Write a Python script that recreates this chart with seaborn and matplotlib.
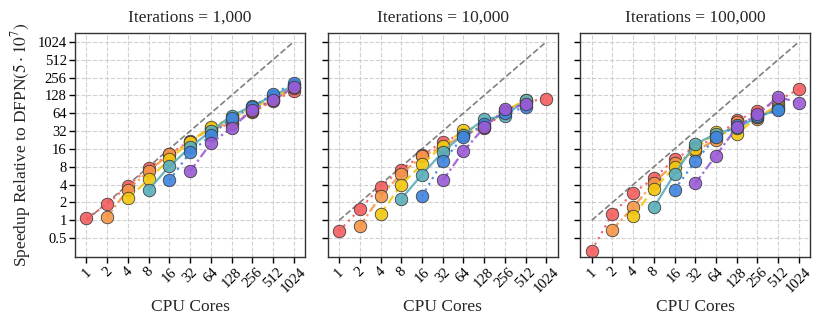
import numpy as np
import pandas as pd
import matplotlib
matplotlib.use("Agg")
import matplotlib.pyplot as plt
import seaborn as sns

# cores on the x axis
cores = [1, 2, 4, 8, 16, 32, 64, 128, 256, 512, 1024]
iterations = ["1,000", "10,000", "100,000"]

# speedup values, one list per starting core count
# (None where the series has no point)
speedup_1k = {
    "1":  [1.08, 1.87, 3.85, 7.5, 13.0, 22.0, 35.0, 42.0, 66.0, 103.0, 152.0],
    "2":  [None, 1.15, 3.3, 6.8, 13.0, 21.0, 36.0, 44.0, 70.0, 105.0, 170.0],
    "4":  [None, None, 2.34, 4.9, 10.7, 21.0, 38.0, 52.0, 78.0, 115.0, 180.0],
    "8":  [None, None, None, 3.3, 8.1, 17.0, 32.0, 58.0, 85.0, 125.0, 190.0],
    "16": [None, None, None, None, 4.7, 14.0, 27.0, 53.0, 81.0, 134.0, 205.0],
    "32": [None, None, None, None, None, 6.7, 20.0, 36.0, 73.0, 107.0, 176.0],
}
speedup_10k = {
    "1":  [0.66, 1.54, 3.7, 7.2, 12.5, 21.0, 29.0, 36.0, 68.0, 100.0, 112.0],
    "2":  [None, 0.8, 2.55, 6.1, 12.0, 17.5, 27.0, 38.0, 70.0, 104.0, None],
    "4":  [None, None, 1.28, 4.0, 8.8, 18.0, 33.0, 40.0, 67.0, 109.0, None],
    "8":  [None, None, None, 2.3, 5.9, 14.2, 28.0, 50.5, 58.0, 106.0, None],
    "16": [None, None, None, None, 2.55, 9.9, 25.5, 41.6, 65.0, 80.0, None],
    "32": [None, None, None, None, None, 4.7, 14.6, 37.0, 74.0, 90.0, None],
}
speedup_100k = {
    "1":  [0.31, 1.29, 2.9, 5.1, 10.8, 17.0, 25.0, 48.5, 69.0, 106.0, 163.0],
    "2":  [None, 0.7, 1.66, 4.3, 9.1, 14.6, 23.0, 45.0, 52.0, 90.0, None],
    "4":  [None, None, 1.17, 3.4, 7.9, 16.0, 30.5, 28.7, 55.0, 82.0, None],
    "8":  [None, None, None, 1.66, 6.1, 19.2, 29.0, 36.0, 55.0, 74.0, None],
    "16": [None, None, None, None, 3.3, 9.9, 25.5, 40.0, 57.0, 72.0, None],
    "32": [None, None, None, None, None, 4.2, 12.4, 37.0, 61.0, 121.0, 96.0],
}

series = ["1", "2", "4", "8", "16", "32"]
colors = ["#F45D5E", "#F59648", "#F2C70F", "#5AAEB9", "#3E84DD", "#9A5AD6"]
dashes = {"1": (1, 2), "2": (4, 1.5, 1, 1.5), "4": (4, 2), "8": "",
          "16": (1, 2), "32": (4, 1.5, 1, 1.5)}

rows = []
for it, table in zip(iterations, [speedup_1k, speedup_10k, speedup_100k]):
    for s in series:
        for c, v in zip(cores, table[s]):
            if v is not None:
                rows.append({"iters": it, "series": s, "cores": c, "speedup": v})
df = pd.DataFrame(rows)

sns.set_theme(style="ticks")
plt.rcParams["font.family"] = ["Liberation Serif", "DejaVu Serif"]
plt.rcParams["mathtext.fontset"] = "stix"

fig, axes = plt.subplots(1, 3, figsize=(8.21, 3.29), dpi=100, sharey=True)
fig.subplots_adjust(left=0.0914, right=0.987, top=0.90, bottom=0.219, wspace=0.098)

ticks = [0.5, 1, 2, 4, 8, 16, 32, 64, 128, 256, 512, 1024]

for ax, it in zip(axes, iterations):
    sub = df[df["iters"] == it]
    ax.grid(True, which="major", color="#d0d0d0", linestyle="--", linewidth=0.8)
    ax.set_axisbelow(True)
    ax.plot([1, 1024], [1, 1024], color="gray", linestyle="--", linewidth=1.2, zorder=2)
    sns.lineplot(data=sub, x="cores", y="speedup", hue="series", style="series",
                 hue_order=series, style_order=series, palette=colors, dashes=dashes,
                 markers=["o"] * 6, markersize=9, markeredgecolor="#333333",
                 markeredgewidth=0.6, linewidth=1.6, alpha=0.9, legend=False, ax=ax)
    ax.set_xscale("log", base=2)
    ax.set_yscale("log", base=2)
    ax.set_xlim(2 ** -0.55, 2 ** 10.55)
    ax.set_ylim(2 ** -2.05, 2 ** 10.5)
    ax.set_xticks(cores)
    ax.set_xticklabels([str(c) for c in cores], rotation=45, fontsize=10.5)
    ax.set_yticks(ticks)
    ax.set_yticklabels([str(t) for t in ticks], fontsize=10.5)
    ax.minorticks_off()
    ax.tick_params(direction="out", length=4, width=1, colors="black", pad=2)
    ax.set_title("Iterations = " + it, fontsize=12.5, pad=8)
    ax.set_xlabel("CPU Cores", fontsize=12.5, labelpad=3)
    ax.set_ylabel("")
    for sp in ax.spines.values():
        sp.set_color("#333333")
        sp.set_linewidth(1.0)

axes[0].set_ylabel(r"Speedup Relative to DFPN$(5 \cdot 10^7)$", fontsize=12.5, labelpad=3)

fig.savefig("out.png", dpi=100)
